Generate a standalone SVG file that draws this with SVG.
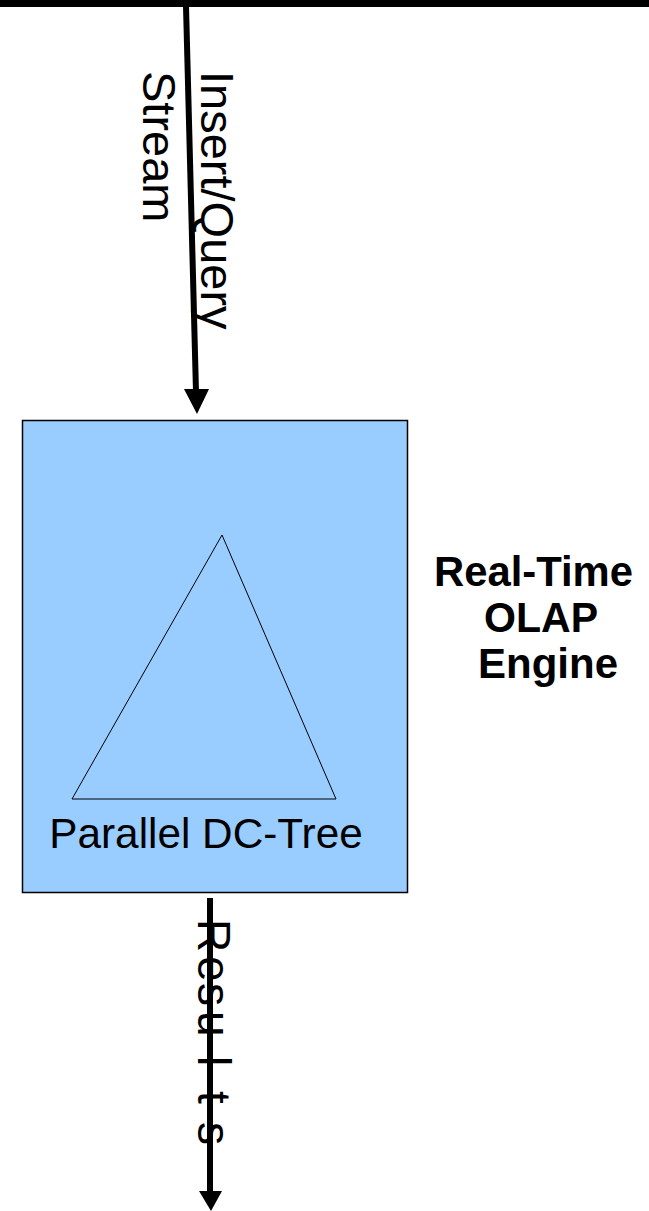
<svg xmlns="http://www.w3.org/2000/svg" width="649" height="1211" viewBox="0 0 649 1211">
  <style>
    .lbl { font-family: "Liberation Sans", Arial, sans-serif; fill: #000; }
    .flow { stroke: #000; stroke-width: 6; fill: none; }
    .head { fill: #000; stroke: none; }
    .engine { fill: #99ccff; stroke: #000; stroke-width: 1.5; }
    .tree { fill: none; stroke: #000; stroke-width: 1; }
  </style>

  <rect width="649" height="1211" fill="#fff"/>

  <!-- top bus bar -->
  <g id="bus">
    <rect x="0" y="0" width="649" height="7" fill="#000"/>
  </g>

  <!-- engine node with the tree inside -->
  <g id="engine">
    <rect class="engine" x="22.5" y="420.5" width="385" height="472"/>
    <polygon class="tree" points="222,535 72,799 336,799"/>
    <text class="lbl" x="206" y="848" font-size="42.3" text-anchor="middle">Parallel DC-Tree</text>
  </g>

  <!-- side caption -->
  <g id="caption" class="lbl" font-size="42" font-weight="bold">
    <text x="434" y="586" textLength="199" lengthAdjust="spacingAndGlyphs">Real-Time</text>
    <text x="484" y="632" textLength="114" lengthAdjust="spacingAndGlyphs">OLAP</text>
    <text x="478" y="678" textLength="140" lengthAdjust="spacingAndGlyphs">Engine</text>
  </g>

  <!-- connectors -->
  <g id="connectors">
    <g id="input-stream">
      <line class="flow" x1="186" y1="6" x2="196" y2="392"/>
      <polygon class="head" points="184,389 209,389 197,414"/>
      <g transform="translate(201,0) rotate(90)">
        <text class="lbl" x="71" y="0" font-size="47">Insert/Query</text>
        <text class="lbl" x="71" y="58" font-size="47">Stream</text>
      </g>
    </g>
    <g id="output-results">
      <line class="flow" x1="210" y1="898" x2="210" y2="1194" stroke-width="7"/>
      <polygon class="head" points="199,1191 222,1191 211,1211"/>
      <g transform="translate(198,0) rotate(90)">
        <text class="lbl" font-size="46" x="919 956 983 1011 1056 1091 1122" y="0">Results</text>
      </g>
    </g>
  </g>
</svg>
